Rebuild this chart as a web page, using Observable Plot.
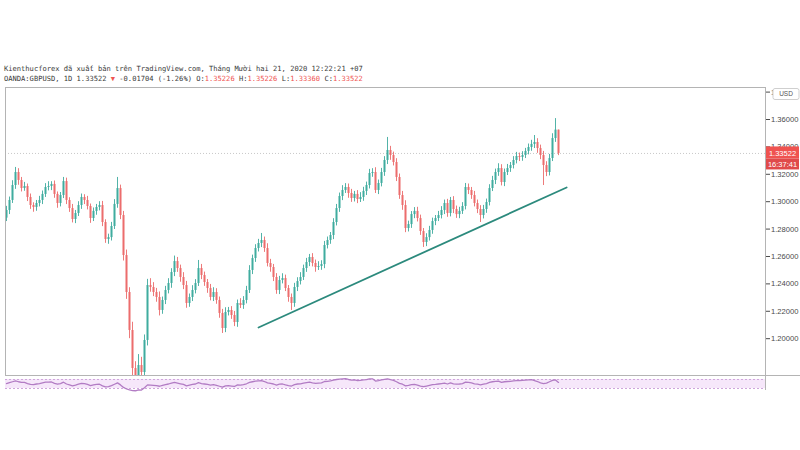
<!DOCTYPE html>
<html><head><meta charset="utf-8">
<script src="https://cdn.jsdelivr.net/npm/d3@7"></script>
<script src="https://cdn.jsdelivr.net/npm/@observablehq/plot@0.6"></script>
<style>
html,body{margin:0;padding:0;background:#fff;}
body{width:800px;height:450px;overflow:hidden;position:relative;}
.hl{position:absolute;left:4px;display:flex;font-family:"DejaVu Sans Mono",monospace;font-size:7.1px;color:#3a3a3a;line-height:10px;white-space:pre;}
.hl .r{color:#ef5350}
#main{position:absolute;left:0;top:0}
#rsi{position:absolute;left:0;top:376px}
svg{overflow:visible}
</style></head>
<body>
<div id="main"></div>
<div id="rsi"></div>
<div id="hdr1" class="hl" style="top:64px"></div>
<div id="hdr2" class="hl" style="top:74px"></div>
<script>
// ---- data (daily GBPUSD candles) ----
const closes = [
1.2936,1.3009,1.3118,1.3213,1.3155,1.3096,1.3111,1.3031,1.2972,1.2958,
1.2987,1.3009,1.3053,1.3104,1.3111,1.3126,1.3053,1.2987,1.3045,1.3147,
1.3009,1.2950,1.2870,1.2914,1.2972,1.3031,1.3009,1.2965,1.2877,1.2929,
1.2958,1.2972,1.2848,1.2724,1.2738,1.2819,1.2980,1.3096,1.2899,1.2607,
1.2337,1.2060,1.1782,1.1658,1.1804,1.1753,1.1987,1.2388,1.2374,1.2337,
1.2301,1.2206,1.2279,1.2352,1.2403,1.2483,1.2563,1.2512,1.2447,1.2388,
1.2257,1.2301,1.2352,1.2403,1.2512,1.2461,1.2410,1.2366,1.2301,1.2337,
1.2279,1.2184,1.2074,1.2191,1.2206,1.2169,1.2118,1.2257,1.2242,1.2279,
1.2352,1.2498,1.2585,1.2658,1.2695,1.2717,1.2658,1.2549,1.2520,1.2447,
1.2352,1.2425,1.2439,1.2366,1.2301,1.2257,1.2374,1.2417,1.2447,1.2512,
1.2556,1.2593,1.2549,1.2520,1.2527,1.2541,1.2680,1.2717,1.2753,1.2848,
1.2950,1.3038,1.3082,1.3104,1.3060,1.3023,1.3053,1.3016,1.3031,1.3075,
1.3118,1.3206,1.3213,1.3082,1.3133,1.3213,1.3301,1.3374,1.3337,1.3286,
1.3177,1.3045,1.2972,1.2804,1.2833,1.2906,1.2929,1.2877,1.2782,1.2702,
1.2738,1.2790,1.2855,1.2877,1.2899,1.2936,1.2987,1.2914,1.3009,1.2943,
1.2906,1.2929,1.2965,1.3104,1.3082,1.3045,1.2987,1.2943,1.2899,1.2943,
1.2994,1.3096,1.3155,1.3213,1.3242,1.3140,1.3213,1.3242,1.3264,1.3301,
1.3330,1.3323,1.3337,1.3367,1.3396,1.3418,1.3432,1.3388,1.3337,1.3264,
1.3213,1.3315,1.3461,1.35226,1.33522];
const firstOpen = 1.2880;
const upperWickPips = [
30,25,35,37,28,22,30,18,25,20, 22,30,25,28,35,20,25,18,22,30,
25,20,30,22,28,25,20,30,18,25, 22,28,30,20,25,30,35,81,25,30,
40,35,60,50,80,60,40,45,50,35, 30,40,25,30,35,28,40,30,25,35,
30,25,35,28,59,30,25,22,30,35, 28,25,30,35,22,28,30,25,35,28,
30,35,25,28,30,51,25,35,30,22, 28,30,35,25,22,25,30,28,35,25,
30,22,28,25,35,28,30,25,22,28, 30,25,35,28,25,30,22,28,35,30,
25,30,28,35,25,30,28,95,30,25, 28,25,30,35,25,22,28,30,25,22,
28,30,25,22,30,28,25,30,22,28, 25,30,28,29,25,22,30,25,28,30,
25,28,30,25,35,28,25,30,22,28, 30,25,28,22,25,30,51,28,25,30,
28,30,35,84,0];
const lowerWickPips = [
25,30,22,28,35,25,20,30,28,35, 28,25,30,22,25,30,28,35,25,22,
30,28,25,30,22,28,30,25,35,22, 28,25,30,28,35,25,22,28,30,40,
50,60,80,208,70,90,50,40,35,30, 35,40,28,30,25,35,30,28,35,30,
35,28,30,25,22,30,28,35,25,30, 28,35,36,30,25,28,30,35,22,28,
25,22,30,28,25,30,28,25,35,30, 28,30,25,22,35,51,28,30,25,22,
28,30,25,35,22,28,30,25,28,30, 25,28,30,22,35,28,25,30,22,28,
30,25,28,22,30,25,28,30,35,25, 30,28,35,30,25,28,30,25,28,36,
30,25,28,30,22,25,30,28,25,30, 28,30,22,25,30,28,25,30,51,25,
28,25,22,30,28,25,30,22,28,25, 25,30,28,22,25,28,30,35,30,146,
30,25,22,28,16];
const rsiValues = [
52,56,60,64,60,57, 57,52,48,47,50,52,55, 58,58,59,53,49,52, 58,50,46,42,45,49,
53,52,48,43,46,48,49, 42,37,38,43,49,55,46, 35,28,24,21,20,24,23,33,
46,45,44,43,40,44,47, 50,54,57,54,51,48,42, 45,48,50,56,52,50,48,
45,47,44,40,36,42,43,41,39, 46,45,47,51,57,60,63,64, 65,61,55,53,50,45,49,50,
46,43,41,47,50,51,54, 56,58,55,53,54,55,61,62, 64,67,70,72,73,74,70,67,68,
65,66,68,69,73,73,63,65, 68,71,73,69,66,60,53, 49,42,44,47,48,45,41,38,
41,44,47,48,50,52,54,50, 55,51,49,50,52,58,57,55, 51,49,46,49,52,57,60,62,
63,57,60,61,62,64,65,65,66, 67,68,69,65,61,55,52, 54,60,66,68,57];
const yTicks = [1.20,1.22,1.24,1.26,1.28,1.30,1.32,1.34,1.36,1.38];
const trendIdx = [84, 186.7];
const trendPrice = [1.2082, 1.3104];
const rsiBand = [30, 70];
const lastClose = 1.33522;
const countdown = "16:37:41";
const headerLine1 = "Kienthucforex đã xuất bản trên TradingView.com, Tháng Mười hai 21, 2020 12:22:21 +07";
const hdrSym = "OANDA:GBPUSD, 1D 1.33522 ", hdrChg = " -0.01704 (-1.26%) ";
const ohlcLabels = ["O:", "H:", "L:", "C:"];
const ohlcValues = ["1.35226", "1.35226", "1.33360", "1.33522"];

// ---- header (each piece its own span) ----
function addSpan(parent, text, red) {
  const s = document.createElement("span");
  if (red) s.className = "r";
  s.textContent = text;
  parent.append(s);
}
addSpan(document.getElementById("hdr1"), headerLine1, false);
{
  const h2 = document.getElementById("hdr2");
  addSpan(h2, hdrSym, false);
  addSpan(h2, "▼", true);
  addSpan(h2, hdrChg, false);
  ohlcLabels.forEach((l, k) => {
    addSpan(h2, (k ? " " : "") + l, false);
    addSpan(h2, ohlcValues[k], true);
  });
}

const UP = "#3fab9e", DOWN = "#eb6b6b";
const candles = closes.map((c, i) => {
  const o = i === 0 ? firstOpen : closes[i - 1];
  return {i, o, c, h: Math.max(o, c) + upperWickPips[i] / 1e4, l: Math.min(o, c) - lowerWickPips[i] / 1e4, col: c >= o ? UP : DOWN};
});
const trend = trendIdx.map((i, k) => ({i, p: trendPrice[k]}));
const xDomain = [-1/3, 253];

const main = Plot.plot({
  width: 800, height: 450, marginLeft: 5, marginRight: 35, marginTop: 87, marginBottom: 75,
  x: {domain: xDomain, axis: null},
  y: {domain: [1.17312, 1.38336], axis: "right", ticks: yTicks, tickFormat: d3.format(".5f"), tickSize: 4, tickPadding: 1.5, label: null, clamp: true},
  color: {type: "identity"},
  style: {background: "transparent", color: "#4a4a4a", fontSize: "7.6px", fontFamily: "'Liberation Sans', Arial, sans-serif"},
  marks: [
    Plot.ruleY([lastClose], {stroke: "#c8c8c8", strokeDasharray: "1,2"}),
    Plot.ruleX(candles, {x: "i", y1: "l", y2: "h", stroke: "col", strokeWidth: 1, strokeOpacity: 0.9}),
    Plot.ruleX(candles, {x: "i", y1: "o", y2: "c", stroke: "col", strokeWidth: 2.1, strokeOpacity: 0.92}),
    Plot.line(trend, {x: "i", y: "p", stroke: "#2c8a7d", strokeWidth: 1.8}),
    Plot.frame({stroke: "#b4b4b4"})
  ]
});
document.getElementById("main").append(main);
{
  const ys = main.scale("y").apply(lastClose);
  const x0 = main.scale("x").apply(xDomain[1]);
  const y1 = main.scale("y").apply(1.17312);
  const s = d3.select(main);
  s.append("line").attr("x1", x0).attr("x2", 800).attr("y1", y1 + 0.5).attr("y2", y1 + 0.5).attr("stroke", "#b4b4b4");
  const g = s.append("g").attr("font-family", "'Liberation Sans', Arial, sans-serif").attr("font-size", "7.5px");
  g.append("rect").attr("x", x0 + 1).attr("y", ys - 6.5).attr("width", 33).attr("height", 12).attr("fill", "#ef5350");
  g.append("rect").attr("x", x0 + 1).attr("y", ys + 5.5).attr("width", 33).attr("height", 11).attr("fill", "#e04a4a");
  g.append("text").attr("x", x0 + 17.5).attr("y", ys).attr("dy", "0.35em").attr("text-anchor", "middle").attr("fill", "#fff").text(lastClose.toFixed(5));
  g.append("text").attr("x", x0 + 17.5).attr("y", ys + 11).attr("dy", "0.35em").attr("text-anchor", "middle").attr("fill", "#fff").text(countdown);
  const u = s.append("g").attr("font-family", "'Liberation Sans', Arial, sans-serif").attr("font-size", "6.5px");
  u.append("rect").attr("x", x0 + 8).attr("y", 88.5).attr("width", 26).attr("height", 11).attr("rx", 2).attr("fill", "#fff").attr("stroke", "#cfcfcf");
  u.append("text").attr("x", x0 + 21).attr("y", 94).attr("dy", "0.35em").attr("text-anchor", "middle").attr("fill", "#555").text("USD");
}

const rsiData = rsiValues.map((v, i) => ({i, v}));
const rsiPlot = Plot.plot({
  width: 800, height: 15, marginLeft: 5, marginRight: 35, marginTop: 0, marginBottom: 0,
  x: {domain: xDomain, axis: null},
  y: {domain: [16.7, 83.3], axis: null},
  style: {background: "transparent"},
  marks: [
    Plot.rect([rsiBand], {x1: () => xDomain[0], x2: () => xDomain[1], y1: d => d[0], y2: d => d[1], fill: "#f6e7fa"}),
    Plot.ruleY(rsiBand, {stroke: "#cfa5dc", strokeDasharray: "2,2"}),
    Plot.line(rsiData, {x: "i", y: "v", stroke: "#b27cc4", strokeWidth: 1.3})
  ]
});
document.getElementById("rsi").append(rsiPlot);
{
  const xr = rsiPlot.scale("x").apply(xDomain[1]);
  d3.select(rsiPlot).append("line").attr("x1", xr + 0.5).attr("x2", xr + 0.5).attr("y1", -1).attr("y2", 14).attr("stroke", "#b4b4b4");
}
</script>
</body></html>
